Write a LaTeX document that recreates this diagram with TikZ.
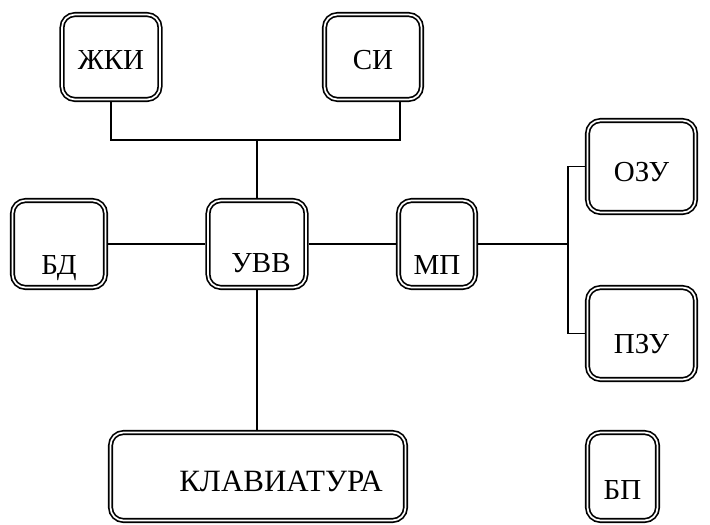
\documentclass[tikz,border=0pt]{standalone}
\usepackage{fontspec}
\setmainfont{Liberation Serif}
\usetikzlibrary{calc, positioning}

\begin{document}
\begin{tikzpicture}[x=1pt, y=-1pt,
        blok/.style={draw, double, line width=1.7pt, double distance=1.7pt,
            rounded corners=13pt, outer sep=2.55pt, inner sep=0pt,
            minimum width=#1, minimum height=85pt, text depth=0pt,
            font=\fontsize{29}{34}\selectfont},
        blok/.default=98pt,
        sdvig/.style={text height=#1},
        svyaz/.style={line width=1.2pt}
    ]
    \useasboundingbox (0,0) rectangle (710,525);
    % verhnij ryad
    \node[blok, sdvig=25pt] (zki) at (111,57) {ЖКИ};
    \node[blok=97pt, sdvig=25pt] (si) at (373,57) {СИ};
    % srednij ryad
    \node[blok=93pt, minimum height=87pt, sdvig=60pt] (bd) at (59,244) {БД};
    \node[blok, minimum height=87pt, sdvig=57pt] (uvv) at (257,244) {\hspace*{8pt}УВВ};
    \node[blok=77pt, minimum height=87pt, sdvig=60pt] (mp) at (437,244) {МП};
    \node[blok=108pt, minimum height=92pt, sdvig=29pt] (ozu) at (641.5,166.5) {ОЗУ};
    \node[blok=108pt, minimum height=92pt, sdvig=39pt] (pzu) at (641.5,333.5) {ПЗУ};
    % nizhnij ryad
    \node[blok=295pt, minimum height=88pt, sdvig=29pt, font=\fontsize{31}{36}\selectfont] (klav) at (258,476.5) {\hspace*{46pt}КЛАВИАТУРА};
    \node[blok=70pt, minimum height=88pt, sdvig=45pt] (bp) at (622.5,476.5) {БП};

    \coordinate (shina) at (257,140);
    \coordinate (razv) at (568,244);
    \draw[svyaz] (zki.south) |- (shina) -| ($(si.south)+(27,0)$);
    \draw[svyaz] (shina) -- (shina |- uvv.north);
    \draw[svyaz] (bd.east) -- (uvv.west);
    \draw[svyaz] (uvv.east) -- (mp.west);
    \draw[svyaz] (mp.east) -- (razv);
    \draw[svyaz] (ozu.west) -| (razv) |- (pzu.west);
    \draw[svyaz] (uvv.south) -- (klav.north -| uvv.south);
\end{tikzpicture}
\end{document}
